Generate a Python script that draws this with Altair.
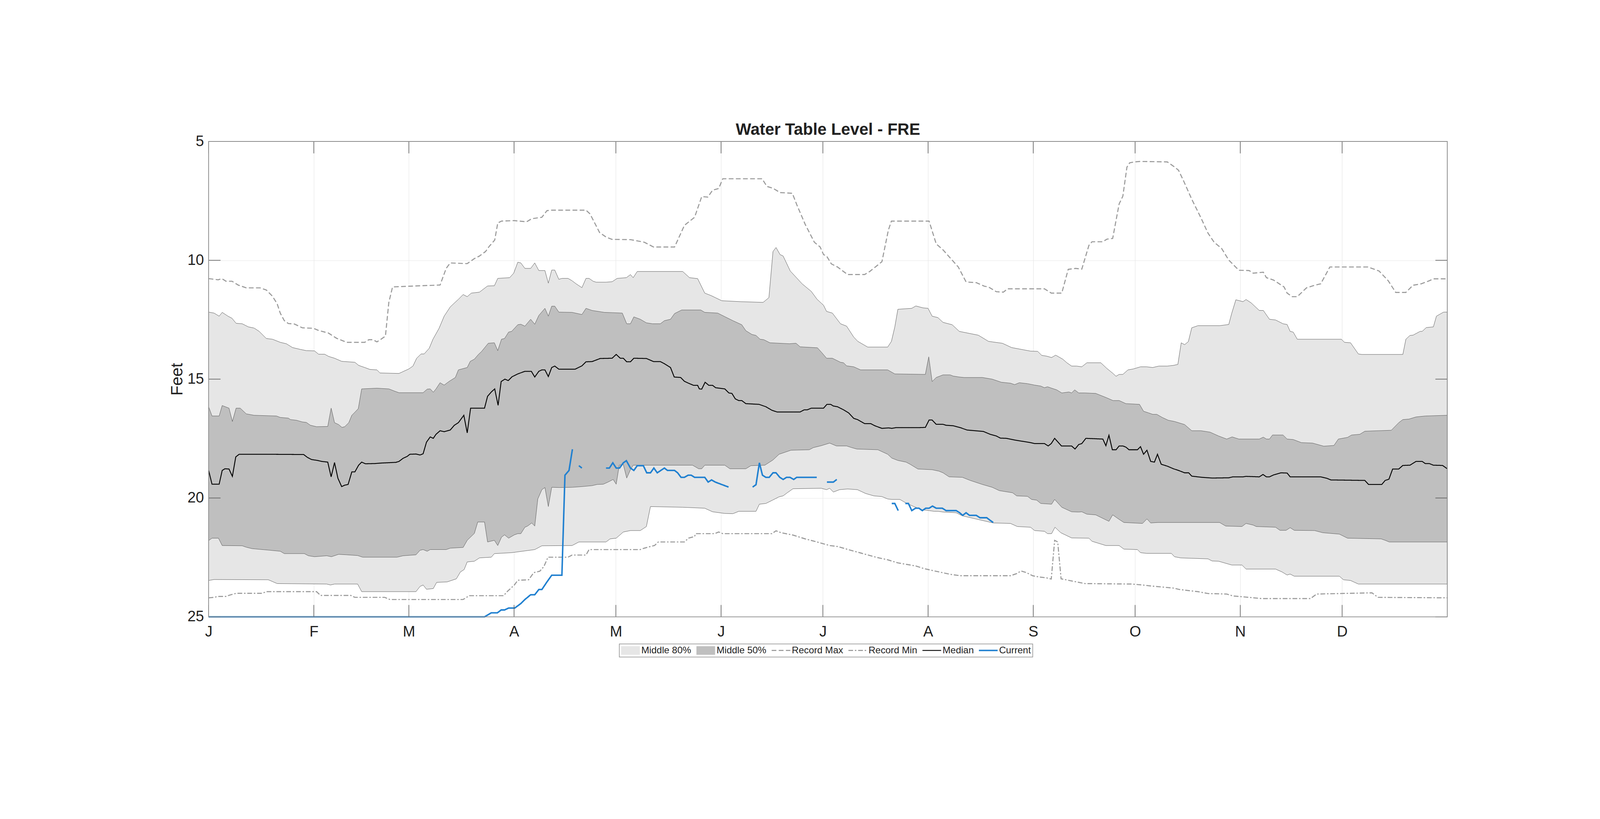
import altair as alt
import pandas as pd

# ---------------- data ----------------
MONTH_STARTS = [0, 31, 59, 90, 120, 151, 181, 212, 243, 273, 304, 334]
MONTH_LABELS = ["J", "F", "M", "A", "M", "J", "J", "A", "S", "O", "N", "D"]
Y_TICKS = [5, 10, 15, 20, 25]
X_DOMAIN = [0, 365]
Y_DOMAIN = [5, 25]

SERIES = ["Middle 80%", "Middle 50%", "Record Max", "Record Min", "Median", "Current"]
SERIES_COLORS = ["#e6e6e6", "#bfbfbf", "#999999", "#999999", "#000000", "#2080d0"]
SERIES_DASH = [[1, 0], [1, 0], [16, 8], [16, 6, 5, 6], [1, 0], [1, 0]]
SERIES_WIDTH = [29, 29, 3.5, 3.5, 3, 5]

REC_MAX = [(0, 10.77), (2.8, 10.82), (3.9, 10.77), (5.1, 10.88), (6.9, 10.88), (8.7, 11.04), (11.1, 11.16),
           (15.2, 11.16), (17.0, 11.25), (18.8, 11.51), (20.2, 11.83), (21.1, 12.22), (22.3, 12.54),
           (23.5, 12.66), (25.3, 12.68), (27.6, 12.84), (30.9, 12.86), (32.4, 12.95), (35.3, 13.06),
           (37.7, 13.28), (40.7, 13.45), (46.0, 13.45), (47.2, 13.34), (48.4, 13.34), (49.6, 13.43),
           (50.8, 13.32), (52.1, 13.19), (53.1, 11.77), (54.2, 11.12), (60.8, 11.08), (68.2, 11.04),
           (70.0, 10.34), (71.2, 10.11), (76.2, 10.14), (78.3, 9.93), (79.8, 9.82), (81.6, 9.63),
           (82.7, 9.41), (84.3, 9.15), (85.2, 8.43), (86.3, 8.35), (90.1, 8.33), (93.7, 8.38),
           (95.2, 8.25), (98.2, 8.19), (99.7, 7.91), (101.1, 7.89), (111.2, 7.89), (112.4, 8.05),
           (115.2, 8.83), (117.1, 9.02), (118.9, 9.12), (124.3, 9.13), (128.4, 9.24), (131.1, 9.44),
           (137.3, 9.44), (140.2, 8.53), (143.2, 8.19), (145.3, 7.32), (147.1, 7.34), (148.5, 7.05),
           (150.3, 6.98), (151.5, 6.57), (163.1, 6.57), (164.5, 6.89), (166.3, 6.97), (168.4, 7.15),
           (172.0, 7.18), (173.4, 7.69), (175.8, 8.49), (178.5, 9.24), (180.2, 9.44), (181.2, 9.76),
           (182.1, 9.82), (183.5, 10.15), (185.3, 10.28), (188.3, 10.60), (193.3, 10.60), (194.8, 10.47),
           (198.4, 10.06), (200.3, 8.73), (201.2, 8.35), (212.3, 8.35), (214.4, 9.31), (216.4, 9.56),
           (220.9, 10.28), (223.2, 10.91), (226.2, 10.94), (228.6, 11.09), (229.8, 11.12), (232.1, 11.32),
           (234.2, 11.34), (235.4, 11.20), (246.3, 11.20), (248.3, 11.38), (251.4, 11.38), (253.3, 10.38),
           (255.5, 10.34), (257.3, 10.37), (259.4, 9.37), (260.3, 9.22), (263.5, 9.22), (264.7, 9.11),
           (266.4, 9.08), (268.3, 7.63), (269.4, 7.30), (270.6, 6.08), (271.4, 5.90), (272.8, 5.86),
           (274.6, 5.84), (282.5, 5.86), (284.3, 6.04), (285.8, 6.21), (287.3, 6.66), (289.7, 7.43),
           (292.4, 8.21), (294.5, 8.86), (296.3, 9.24), (298.5, 9.50), (300.6, 9.99), (303.6, 10.42),
           (306.6, 10.43), (307.8, 10.54), (310.8, 10.50), (311.7, 10.73), (313.8, 10.83), (316.9, 11.12),
           (317.8, 11.38), (319.3, 11.53), (320.8, 11.53), (323.5, 11.16), (325.9, 11.05), (327.7, 10.99),
           (330.4, 10.28), (341.6, 10.28), (344.9, 10.45), (347.6, 10.86), (349.8, 11.35), (352.8, 11.35),
           (354.9, 11.05), (357.3, 10.99), (359.7, 10.86), (360.9, 10.78), (365, 10.78)]

REC_MIN = [(0, 24.20), (1.6, 24.18), (2.8, 24.14), (5.1, 24.14), (6.3, 24.08), (8.1, 24.01), (15.8, 24.01),
           (17.0, 23.94), (31.8, 23.94), (33.0, 24.10), (41.9, 24.10), (43.1, 24.18), (51.9, 24.18),
           (53.4, 24.27), (75.0, 24.27), (76.8, 24.11), (86.9, 24.11), (88.1, 23.92), (90.1, 23.66),
           (91.1, 23.46), (94.3, 23.44), (95.8, 23.14), (97.6, 23.08), (98.8, 22.88), (100.0, 22.49),
           (105.9, 22.49), (107.1, 22.40), (111.2, 22.40), (112.1, 22.17), (127.2, 22.17), (128.4, 22.11),
           (130.2, 22.04), (131.4, 22.00), (132.5, 21.85), (140.2, 21.85), (141.4, 21.69), (143.2, 21.62),
           (143.5, 21.50), (149.1, 21.50), (150.3, 21.43), (151.5, 21.50), (166.0, 21.50), (167.2, 21.38),
           (168.7, 21.46), (172.2, 21.56), (175.8, 21.72), (179.3, 21.85), (183.0, 22.00), (185.3, 22.04),
           (189.5, 22.21), (191.8, 22.30), (196.6, 22.49), (200.1, 22.60), (203.1, 22.73), (208.4, 22.86),
           (210.8, 22.97), (214.9, 23.10), (218.5, 23.21), (221.5, 23.27), (236.3, 23.27), (238.1, 23.18),
           (239.4, 23.07), (241.0, 23.14), (242.8, 23.27), (244.6, 23.32), (246.9, 23.36), (248.3, 23.41),
           (249.3, 21.78), (250.2, 21.85), (251.2, 23.40), (254.0, 23.48), (258.2, 23.60), (272.1, 23.62),
           (275.2, 23.66), (277.6, 23.70), (284.3, 23.79), (286.1, 23.85), (291.5, 23.94), (294.5, 24.02),
           (300.0, 24.04), (301.8, 24.12), (306.6, 24.18), (310.2, 24.23), (324.7, 24.23), (326.5, 24.04),
           (342.8, 23.99), (344.6, 24.18), (365, 24.20)]

# shallow edge of the middle-80% band (10th percentile)
P10 = [(0, 12.18), (1.6, 12.22), (3.1, 12.35), (4.0, 12.19), (5.7, 12.35), (6.9, 12.44), (8.1, 12.65),
       (9.9, 12.67), (11.7, 12.80), (13.4, 12.85), (14.9, 12.99), (17.0, 13.29), (18.8, 13.32),
       (21.1, 13.45), (22.9, 13.51), (24.7, 13.67), (27.1, 13.75), (28.8, 13.80), (31.2, 13.81),
       (32.4, 13.95), (34.2, 13.95), (35.3, 14.04), (37.1, 14.12), (39.2, 14.25), (43.1, 14.29),
       (44.2, 14.42), (46.0, 14.51), (47.5, 14.59), (49.6, 14.61), (50.5, 14.74), (56.1, 14.76),
       (59.0, 14.57), (60.2, 14.45), (61.3, 14.12), (62.6, 13.94), (63.5, 13.94), (65.0, 13.70),
       (66.1, 13.32), (67.9, 12.86), (69.4, 12.35), (71.2, 11.96), (73.6, 11.64), (75.0, 11.44),
       (76.2, 11.53), (77.4, 11.38), (79.8, 11.34), (82.2, 11.08), (84.2, 11.07), (85.2, 10.76),
       (88.7, 10.73), (89.9, 10.54), (91.1, 10.08), (92.0, 10.11), (93.2, 10.34), (94.9, 10.34),
       (96.1, 10.11), (97.3, 10.43), (99.1, 10.43), (100.1, 10.96), (101.1, 10.41), (102.0, 10.41),
       (103.2, 10.80), (104.1, 10.76), (105.9, 10.76), (107.1, 10.86), (108.3, 10.99), (110.0, 11.15),
       (111.2, 10.76), (112.1, 10.76), (113.3, 10.88), (114.2, 10.92), (117.1, 10.92), (118.9, 10.90),
       (120.4, 10.76), (123.1, 10.73), (124.3, 10.60), (125.1, 10.73), (126.3, 10.47), (139.7, 10.47),
       (141.7, 10.73), (144.1, 10.77), (146.2, 11.38), (148.0, 11.48), (151.2, 11.70), (156.8, 11.74),
       (163.4, 11.77), (165.1, 11.57), (166.3, 9.63), (167.2, 9.46), (168.4, 9.76), (169.3, 9.82),
       (171.4, 10.45), (174.9, 10.99), (177.6, 11.31), (179.3, 11.64), (181.2, 11.89), (182.1, 12.15),
       (183.8, 12.22), (186.2, 12.67), (188.0, 12.77), (190.1, 13.23), (191.3, 13.41), (194.2, 13.65),
       (200.1, 13.65), (201.2, 13.41), (202.2, 12.80), (203.1, 12.06), (207.2, 12.02), (208.4, 11.92),
       (210.5, 12.00), (212.0, 12.02), (213.2, 12.35), (214.9, 12.41), (216.4, 12.61), (219.1, 12.71),
       (221.2, 12.99), (226.8, 13.15), (229.8, 13.41), (233.9, 13.49), (236.6, 13.67), (242.2, 13.82),
       (244.3, 13.83), (245.5, 14.00), (246.9, 14.03), (248.4, 14.09), (249.6, 13.99), (251.7, 14.16),
       (252.9, 14.31), (254.3, 14.45), (255.8, 14.45), (257.3, 14.48), (258.8, 14.31), (262.9, 14.31),
       (264.7, 14.55), (266.5, 14.76), (267.4, 14.88), (268.3, 14.80), (269.4, 14.80), (270.9, 14.61),
       (272.5, 14.57), (274.6, 14.48), (276.4, 14.48), (278.2, 14.51), (280.0, 14.45), (282.5, 14.45),
       (284.3, 14.42), (285.6, 14.38), (286.6, 13.47), (287.6, 13.55), (288.7, 13.42), (289.7, 12.84),
       (291.5, 12.75), (297.9, 12.75), (300.6, 12.70), (301.5, 12.22), (302.7, 11.66), (304.8, 11.74),
       (305.7, 11.65), (307.2, 11.79), (309.6, 12.11), (310.8, 12.11), (312.6, 12.48), (314.4, 12.51),
       (316.6, 12.67), (317.8, 12.70), (318.7, 12.99), (319.6, 13.02), (320.8, 13.32), (333.8, 13.32),
       (334.7, 13.45), (336.5, 13.47), (338.8, 13.94), (339.8, 13.96), (351.9, 13.96), (352.8, 13.32),
       (354.0, 13.16), (354.9, 13.15), (357.0, 12.99), (357.6, 12.99), (358.8, 12.83), (360.9, 12.80),
       (361.8, 12.35), (363.9, 12.18), (365, 12.18)]

# deep edge of the middle-80% band (90th percentile)
P90 = [(0, 23.47), (1.6, 23.43), (17.6, 23.44), (20.2, 23.60), (34.8, 23.62), (35.9, 23.66), (37.1, 23.62),
       (43.9, 23.62), (45.1, 23.94), (61.1, 23.94), (62.3, 23.72), (63.2, 23.66), (64.2, 23.84),
       (66.2, 23.81), (67.2, 23.55), (70.3, 23.53), (73.0, 23.40), (74.2, 23.11), (75.3, 23.01),
       (76.2, 22.69), (78.3, 22.66), (79.8, 22.52), (83.3, 22.49), (84.2, 22.34), (89.3, 22.30),
       (96.1, 22.17), (98.2, 22.01), (107.1, 22.00), (109.1, 21.85), (117.1, 21.85), (118.3, 21.72),
       (120.1, 21.69), (122.2, 21.43), (124.3, 21.37), (127.2, 21.37), (129.0, 21.20), (130.2, 20.36),
       (139.7, 20.39), (146.2, 20.43), (148.5, 20.58), (152.1, 20.65), (154.5, 20.66), (156.2, 20.56),
       (161.3, 20.56), (162.3, 20.26), (164.2, 20.23), (166.3, 20.08), (168.1, 19.95), (169.3, 19.91),
       (170.5, 19.78), (172.2, 19.61), (180.5, 19.59), (182.1, 19.65), (183.0, 19.59), (184.1, 19.75),
       (185.9, 19.65), (188.3, 19.62), (191.2, 19.65), (193.6, 19.81), (196.0, 19.91), (198.4, 19.94),
       (200.1, 20.04), (201.3, 20.06), (203.7, 20.06), (205.5, 20.21), (207.8, 20.36), (210.2, 20.49),
       (213.8, 20.56), (214.9, 20.56), (216.4, 20.59), (220.3, 20.62), (222.1, 20.75), (231.2, 21.05),
       (236.3, 21.07), (238.3, 21.20), (242.2, 21.23), (243.4, 21.37), (246.3, 21.40), (247.2, 21.50),
       (248.4, 21.50), (249.4, 21.23), (251.1, 21.46), (254.3, 21.68), (259.4, 21.69), (260.3, 21.82),
       (264.4, 22.00), (268.3, 22.00), (269.7, 22.15), (273.7, 22.17), (274.6, 22.30), (276.4, 22.33),
       (283.7, 22.33), (284.6, 22.47), (286.4, 22.52), (294.5, 22.56), (295.7, 22.65), (297.6, 22.66),
       (301.5, 22.82), (304.5, 22.82), (305.7, 22.99), (314.4, 22.99), (316.3, 23.11), (317.8, 23.24),
       (318.7, 23.20), (319.9, 23.29), (333.2, 23.29), (334.4, 23.44), (336.5, 23.47), (338.8, 23.62),
       (365, 23.62)]

# shallow edge of the middle-50% band (25th percentile)
P25 = [(0, 16.16), (1.0, 16.55), (3.1, 16.55), (4.0, 16.11), (6.0, 16.22), (7.0, 16.78), (8.1, 16.22),
       (9.3, 16.22), (11.1, 16.46), (13.4, 16.52), (20.0, 16.55), (21.1, 16.61), (23.5, 16.64),
       (24.1, 16.70), (25.9, 16.73), (27.6, 16.80), (28.8, 16.82), (30.0, 16.94), (31.8, 17.00),
       (35.1, 16.99), (36.1, 16.22), (37.1, 16.83), (38.3, 16.91), (39.3, 17.03), (40.1, 17.00),
       (41.3, 16.83), (42.2, 16.52), (43.1, 16.39), (44.1, 16.24), (45.1, 15.41), (49.6, 15.38),
       (53.1, 15.41), (54.9, 15.51), (56.1, 15.57), (63.2, 15.57), (64.4, 15.42), (65.3, 15.41),
       (66.2, 15.55), (67.0, 15.41), (68.2, 15.15), (69.4, 15.25), (70.9, 15.09), (72.7, 14.93),
       (73.6, 14.61), (76.2, 14.51), (77.1, 14.25), (78.3, 14.16), (79.5, 13.96), (80.4, 13.84),
       (82.4, 13.49), (84.2, 13.47), (85.2, 13.80), (86.3, 13.32), (87.2, 13.29), (88.4, 13.02),
       (89.3, 12.99), (91.1, 12.71), (92.0, 12.69), (93.2, 12.77), (94.9, 12.48), (96.1, 12.69),
       (97.3, 12.32), (99.1, 12.02), (100.1, 12.35), (101.1, 11.93), (102.0, 11.93), (103.2, 12.18),
       (107.1, 12.19), (110.0, 12.28), (111.2, 12.02), (113.0, 12.11), (116.6, 12.19), (121.9, 12.22),
       (123.2, 12.67), (124.3, 12.67), (125.3, 12.38), (127.2, 12.48), (129.0, 12.63), (130.8, 12.67),
       (133.1, 12.67), (134.3, 12.54), (136.1, 12.48), (137.3, 12.24), (139.4, 12.09), (145.0, 12.09),
       (146.2, 12.19), (150.0, 12.22), (152.1, 12.37), (154.5, 12.54), (157.1, 12.71), (158.3, 12.96),
       (160.1, 13.12), (161.3, 13.16), (162.5, 13.32), (163.6, 13.34), (165.4, 13.47), (171.1, 13.51),
       (173.1, 13.49), (174.3, 13.64), (179.4, 13.68), (180.6, 13.87), (182.1, 14.12), (183.8, 14.12),
       (186.2, 14.29), (187.1, 14.31), (188.0, 14.44), (190.1, 14.48), (192.1, 14.61), (200.1, 14.61),
       (202.2, 14.78), (211.2, 14.80), (212.2, 14.06), (213.2, 15.10), (214.4, 14.93), (216.4, 14.82),
       (218.5, 14.82), (219.4, 14.87), (221.2, 14.91), (222.6, 14.93), (228.0, 14.93), (230.9, 15.00),
       (233.6, 15.13), (236.3, 15.17), (237.5, 15.23), (238.9, 15.15), (241.3, 15.19), (243.4, 15.25),
       (245.2, 15.29), (246.3, 15.36), (247.2, 15.32), (248.4, 15.38), (249.9, 15.45), (251.4, 15.58),
       (253.5, 15.54), (254.3, 15.58), (255.2, 15.45), (256.4, 15.58), (258.2, 15.58), (261.4, 15.60),
       (264.4, 15.77), (266.5, 15.90), (268.3, 15.90), (270.3, 16.03), (274.3, 16.06), (275.5, 16.35),
       (277.0, 16.42), (278.2, 16.48), (279.4, 16.48), (281.0, 16.61), (282.8, 16.73), (284.6, 16.78),
       (287.6, 16.91), (289.7, 17.17), (292.4, 17.17), (295.1, 17.23), (297.6, 17.39), (300.0, 17.52),
       (301.6, 17.43), (303.6, 17.52), (309.6, 17.52), (310.8, 17.44), (311.7, 17.52), (312.6, 17.52),
       (313.5, 17.35), (316.6, 17.35), (317.8, 17.52), (319.6, 17.54), (322.0, 17.67), (325.3, 17.69),
       (328.6, 17.82), (331.6, 17.79), (332.9, 17.52), (335.6, 17.45), (336.8, 17.35), (339.2, 17.32),
       (340.7, 17.19), (348.5, 17.15), (350.7, 16.83), (351.9, 16.70), (353.7, 16.68), (355.8, 16.59),
       (358.5, 16.55), (365, 16.52)]

# deep edge of the middle-50% band (75th percentile)
P75 = [(0, 21.79), (1.0, 21.69), (2.9, 21.69), (4.0, 22.00), (9.9, 22.01), (11.1, 22.07), (12.8, 22.13),
       (18.2, 22.20), (21.1, 22.24), (22.3, 22.34), (28.2, 22.34), (29.4, 22.43), (31.2, 22.47),
       (34.8, 22.43), (36.2, 22.47), (38.3, 22.37), (40.7, 22.39), (43.9, 22.42), (45.4, 22.49),
       (55.5, 22.49), (57.3, 22.43), (61.1, 22.39), (62.3, 22.20), (63.2, 22.17), (64.4, 22.24),
       (65.3, 22.17), (70.0, 22.17), (71.2, 22.11), (75.0, 22.08), (76.2, 21.78), (78.3, 21.49),
       (79.3, 21.01), (81.3, 21.01), (82.2, 21.85), (84.2, 21.78), (85.2, 22.00), (86.3, 21.65),
       (87.2, 21.55), (88.4, 21.69), (90.1, 21.55), (91.1, 21.50), (92.0, 21.50), (93.2, 21.23),
       (94.0, 21.18), (95.2, 21.05), (96.1, 21.18), (97.0, 20.04), (98.2, 19.65), (99.1, 19.56),
       (100.1, 20.36), (101.1, 19.55), (103.5, 19.56), (107.1, 19.55), (110.0, 19.52), (113.0, 19.48),
       (114.5, 19.43), (116.3, 19.42), (117.7, 19.33), (119.2, 19.22), (120.1, 19.42), (121.0, 18.62),
       (122.2, 18.59), (123.2, 19.16), (124.3, 18.81), (125.1, 18.62), (142.6, 18.62), (144.4, 18.77),
       (145.3, 18.77), (146.2, 18.62), (152.1, 18.62), (153.6, 18.77), (158.3, 18.77), (159.8, 18.64),
       (163.9, 18.62), (166.3, 18.40), (168.1, 18.16), (171.6, 17.99), (177.0, 17.97), (178.2, 17.88),
       (180.5, 17.80), (183.0, 17.69), (185.0, 17.81), (188.0, 17.81), (189.5, 17.88), (191.0, 17.94),
       (197.2, 17.97), (200.1, 18.16), (201.3, 18.32), (203.1, 18.42), (205.5, 18.49), (206.7, 18.58),
       (209.0, 18.78), (213.2, 18.81), (215.2, 18.87), (216.4, 18.94), (218.2, 19.11), (222.1, 19.13),
       (224.4, 19.26), (228.0, 19.43), (230.9, 19.55), (233.0, 19.69), (236.9, 19.78), (238.1, 19.91),
       (241.3, 19.93), (242.5, 20.06), (244.0, 20.09), (245.2, 20.23), (248.4, 20.26), (249.3, 20.06),
       (251.4, 20.39), (254.3, 20.58), (256.4, 20.59), (257.3, 20.58), (258.8, 20.68), (261.4, 20.71),
       (264.4, 20.92), (265.3, 20.98), (266.4, 20.71), (268.3, 20.90), (269.7, 21.03), (275.2, 21.07),
       (276.5, 20.88), (277.6, 21.05), (279.7, 21.03), (297.9, 21.03), (299.7, 21.18), (304.5, 21.20),
       (305.7, 21.07), (307.8, 21.14), (308.7, 21.20), (314.4, 21.23), (315.7, 21.36), (317.5, 21.36),
       (318.7, 21.25), (319.9, 21.36), (325.9, 21.37), (328.3, 21.46), (333.2, 21.52), (335.6, 21.69),
       (345.5, 21.72), (346.7, 21.78), (347.9, 21.85), (365, 21.85)]

MEDIAN = [(0, 18.84), (1.0, 19.42), (3.1, 19.42), (4.0, 18.84), (4.8, 18.77), (6.0, 18.78), (7.0, 19.09),
          (8.0, 18.27), (9.0, 18.16), (17.0, 18.16), (28.0, 18.17), (29.1, 18.29), (30.3, 18.38),
          (32.1, 18.42), (33.3, 18.46), (35.1, 18.49), (36.1, 19.11), (37.1, 18.51), (38.1, 19.17),
          (39.2, 19.52), (40.1, 19.46), (41.1, 19.43), (42.2, 18.90), (43.1, 18.90), (44.2, 18.62),
          (45.1, 18.49), (46.2, 18.56), (49.0, 18.55), (50.8, 18.53), (55.2, 18.50), (56.1, 18.46),
          (57.3, 18.33), (58.5, 18.25), (59.3, 18.16), (61.1, 18.15), (62.3, 18.19), (63.2, 18.14),
          (64.2, 17.65), (65.3, 17.43), (66.2, 17.49), (67.0, 17.32), (68.2, 17.17), (69.4, 17.21),
          (71.2, 17.14), (72.4, 16.94), (73.6, 16.83), (75.2, 16.52), (76.2, 17.26), (77.2, 16.22),
          (81.3, 16.22), (82.2, 15.72), (83.3, 15.54), (84.3, 15.41), (85.3, 16.10), (86.2, 15.10),
          (87.3, 15.00), (88.3, 15.06), (89.4, 14.90), (91.1, 14.78), (93.2, 14.67), (95.1, 14.67),
          (96.1, 14.91), (97.3, 14.67), (98.2, 14.61), (99.1, 14.61), (100.1, 14.89), (101.1, 14.51),
          (102.0, 14.45), (103.2, 14.58), (108.0, 14.58), (110.0, 14.44), (111.2, 14.27), (113.0, 14.26),
          (115.4, 14.13), (118.9, 14.12), (120.1, 13.96), (121.3, 14.12), (122.2, 14.12), (123.2, 14.27),
          (124.3, 14.27), (125.3, 14.12), (129.0, 14.13), (131.1, 14.26), (133.1, 14.26), (134.3, 14.35),
          (136.1, 14.51), (137.2, 14.91), (139.1, 14.93), (140.2, 15.09), (141.4, 15.17), (142.9, 15.26),
          (144.1, 15.26), (144.6, 15.41), (145.3, 15.42), (146.3, 15.13), (147.4, 15.26), (148.5, 15.26),
          (149.4, 15.36), (152.1, 15.41), (153.3, 15.58), (154.2, 15.60), (155.2, 15.83), (156.2, 15.90),
          (157.1, 15.90), (158.3, 16.03), (162.2, 16.06), (164.2, 16.16), (166.0, 16.31), (167.5, 16.38),
          (174.3, 16.38), (175.5, 16.29), (176.4, 16.29), (177.6, 16.22), (181.2, 16.22), (182.2, 16.06),
          (183.3, 16.06), (184.1, 16.13), (185.3, 16.16), (187.1, 16.29), (188.6, 16.42), (190.1, 16.65),
          (191.2, 16.70), (193.3, 16.87), (195.1, 16.87), (196.3, 16.96), (198.4, 17.07), (200.4, 17.05),
          (201.3, 17.07), (202.5, 17.04), (209.0, 17.04), (211.2, 17.03), (212.3, 16.72), (213.2, 16.72),
          (214.4, 16.90), (216.4, 16.90), (217.3, 16.94), (219.4, 16.96), (221.5, 17.04), (223.5, 17.14),
          (228.3, 17.20), (230.3, 17.32), (232.1, 17.39), (233.3, 17.48), (235.1, 17.49), (237.5, 17.56),
          (242.2, 17.67), (243.4, 17.71), (246.3, 17.71), (247.4, 17.81), (248.3, 17.71), (249.3, 17.49),
          (251.3, 17.81), (254.3, 17.81), (255.3, 17.94), (256.4, 17.75), (257.3, 17.71), (258.5, 17.49),
          (263.5, 17.52), (264.4, 17.80), (265.3, 17.36), (266.3, 17.97), (267.4, 17.97), (268.3, 17.81),
          (269.4, 17.81), (270.3, 17.86), (271.2, 17.97), (273.7, 17.97), (274.6, 17.84), (275.5, 18.16),
          (276.5, 17.99), (277.6, 18.46), (278.7, 18.49), (279.6, 18.16), (280.7, 18.58), (282.5, 18.66),
          (284.3, 18.77), (285.8, 18.84), (287.6, 18.94), (288.8, 18.94), (289.7, 19.08), (292.7, 19.13),
          (295.7, 19.16), (300.6, 19.15), (301.8, 19.11), (304.8, 19.11), (305.7, 19.09), (309.6, 19.11),
          (310.7, 19.01), (311.7, 19.11), (312.6, 19.11), (313.8, 19.03), (316.0, 18.94), (317.8, 18.95),
          (318.7, 19.11), (327.7, 19.11), (329.5, 19.17), (330.7, 19.24), (340.7, 19.26), (341.8, 19.43),
          (345.7, 19.43), (346.7, 19.26), (347.8, 19.21), (348.9, 18.78), (350.7, 18.78), (351.9, 18.63),
          (354.0, 18.62), (355.8, 18.46), (357.6, 18.46), (358.5, 18.55), (359.7, 18.55), (360.9, 18.62),
          (363.6, 18.63), (365, 18.77)]

# current year, with gaps where no readings exist
CURRENT_SEGMENTS = [
    [(0, 25.0), (81.3, 25.0), (83.3, 24.83), (85.1, 24.83), (86.2, 24.71), (87.2, 24.71), (88.4, 24.63),
     (90.2, 24.63), (92.0, 24.44), (93.2, 24.27), (94.9, 24.07), (96.1, 24.07), (97.3, 23.85),
     (98.2, 23.85), (99.7, 23.53), (101.1, 23.25), (104.1, 23.25), (105.0, 19.04), (106.2, 18.84),
     (107.2, 17.95)],
    [(109.1, 18.64), (110.0, 18.74)],
    [(117.1, 18.74), (118.1, 18.74), (119.1, 18.52), (120.1, 18.74), (121.1, 18.74), (122.2, 18.52),
     (123.1, 18.43), (124.3, 18.74), (125.3, 18.84), (126.3, 18.64), (128.1, 18.64), (129.1, 18.94),
     (130.2, 18.94), (131.2, 18.74), (132.2, 18.94), (134.3, 18.74), (135.2, 18.84), (137.3, 18.84),
     (138.2, 18.94), (139.2, 19.13), (140.2, 19.13), (141.3, 19.04), (142.2, 19.04), (143.2, 19.13),
     (146.2, 19.13), (147.2, 19.33), (148.2, 19.24), (149.3, 19.33), (153.2, 19.54)],
    [(160.3, 19.54), (161.3, 19.44), (162.3, 18.52), (163.2, 19.04), (164.2, 19.13), (165.2, 19.13),
     (166.3, 18.94), (167.2, 18.94), (168.3, 19.13), (169.3, 19.22), (170.3, 19.13), (171.3, 19.13),
     (172.4, 19.22), (173.3, 19.13), (179.2, 19.13)],
    [(182.2, 19.33), (184.1, 19.33), (185.1, 19.22)],
    [(201.3, 20.23), (202.2, 20.23), (203.2, 20.53)],
    [(205.3, 20.23), (206.2, 20.23), (207.2, 20.53), (208.3, 20.43), (209.3, 20.43), (210.3, 20.53),
     (211.3, 20.43), (212.3, 20.43), (213.3, 20.34), (214.4, 20.43), (216.2, 20.43), (217.3, 20.53),
     (220.3, 20.53), (221.3, 20.62), (222.2, 20.73), (223.2, 20.62), (224.2, 20.73), (226.2, 20.73),
     (227.3, 20.83), (229.3, 20.83), (230.2, 20.93), (231.2, 21.03)],
]

# ---------------- tables ----------------
def band_polygon(upper, lower):
    pts = list(upper) + list(reversed(lower))
    return pd.DataFrame({"day": [p[0] for p in pts], "ft": [p[1] for p in pts], "k": list(range(len(pts)))})


def series_df(pts, name):
    return pd.DataFrame({"day": [p[0] for p in pts], "ft": [p[1] for p in pts], "series": name})


light_df = band_polygon(P10, P90)
dark_df = band_polygon(P25, P75)
max_df = series_df(REC_MAX, "Record Max")
min_df = series_df(REC_MIN, "Record Min")
med_df = series_df(MEDIAN, "Median")
cur_df = pd.concat(
    [series_df(seg, "Current").assign(seg=i) for i, seg in enumerate(CURRENT_SEGMENTS)],
    ignore_index=True,
)
xtick_df = pd.DataFrame({"day": MONTH_STARTS})
ytick_df = pd.DataFrame({"ft": Y_TICKS})
box_df = pd.DataFrame({"day": [X_DOMAIN[0]], "day2": [X_DOMAIN[1]], "ft": [Y_DOMAIN[0]], "ft2": [Y_DOMAIN[1]]})

# ---------------- layout & styling ----------------
W, H = 4165, 1598                                   # plot area
PAD = {"left": 691, "top": 139, "right": 503, "bottom": 343}   # whole chart 5359 x 2080
FONT = "Liberation Sans, Arial, Helvetica, sans-serif"
TXT = "#212121"
TICK_LEN = 40

label_expr = (
    "[" + ",".join("'%s'" % s for s in MONTH_LABELS) + "][indexof(["
    + ",".join(str(v) for v in MONTH_STARTS) + "], datum.value)]"
)

x_scale = alt.Scale(domain=X_DOMAIN, nice=False, zero=False)
y_scale = alt.Scale(domain=Y_DOMAIN, reverse=True, nice=False, zero=False)

x_axis = alt.Axis(values=MONTH_STARTS, labelExpr=label_expr, title=None, grid=True, ticks=False, tickSize=0,
                  domain=False, labelFontSize=50, labelFont=FONT, labelColor=TXT, labelPadding=25,
                  labelFlush=False, labelOverlap=False, gridColor="#e6e6e6", gridWidth=1.5, zindex=0)
y_axis = alt.Axis(values=Y_TICKS, title="Feet", grid=True, ticks=False, tickSize=0, domain=False,
                  labelFontSize=50, labelFont=FONT, labelColor=TXT, labelPadding=16, labelFlush=False,
                  labelOverlap=False, titleFontSize=55, titleFont=FONT, titleFontWeight="normal",
                  titleColor=TXT, titlePadding=5, gridColor="#e6e6e6", gridWidth=1.5, zindex=0)

X = alt.X("day:Q", scale=x_scale, axis=x_axis)
Y = alt.Y("ft:Q", scale=y_scale, axis=y_axis)

# legend symbol: a 63px-long stroke (thick strokes act as the band swatches)
legend = alt.Legend(
    title=None, orient="none", legendX=1381, legendY=1689, direction="horizontal", columns=6,
    symbolType="M-10.67,0L31.33,0", symbolSize=9, symbolStrokeWidth=2, labelOffset=36, columnPadding=17,
    labelFontSize=32, labelFont=FONT, labelColor=TXT, labelLimit=600, clipHeight=32,
)
C = alt.Color("series:N", scale=alt.Scale(domain=SERIES, range=SERIES_COLORS), legend=legend)
D = alt.StrokeDash("series:N", scale=alt.Scale(type="ordinal", domain=SERIES, range=SERIES_DASH), legend=legend)
SW = alt.StrokeWidth("series:N", scale=alt.Scale(type="ordinal", domain=SERIES, range=SERIES_WIDTH),
                     legend=legend)

# ---------------- layers ----------------
light = alt.Chart(light_df).mark_line(fill="#e6e6e6", stroke="#505050", strokeWidth=1.2).encode(
    x=X, y=Y, order="k:Q")
dark = alt.Chart(dark_df).mark_line(fill="#bfbfbf", stroke="#505050", strokeWidth=1.2).encode(
    x=X, y=Y, order="k:Q")
rmax = alt.Chart(max_df).mark_line().encode(x=X, y=Y, color=C, strokeDash=D, strokeWidth=SW)
rmin = alt.Chart(min_df).mark_line().encode(x=X, y=Y, color=C, strokeDash=D, strokeWidth=SW)
med = alt.Chart(med_df).mark_line().encode(x=X, y=Y, color=C, strokeDash=D, strokeWidth=SW)
cur = alt.Chart(cur_df).mark_line().encode(x=X, y=Y, color=C, strokeDash=D, strokeWidth=SW, detail="seg:N")

tick_style = dict(color="#555555", strokeWidth=2)
xt_bottom = alt.Chart(xtick_df).mark_rule(**tick_style).encode(
    x=X, y=alt.value(H), y2=alt.value(H - TICK_LEN))
xt_top = alt.Chart(xtick_df).mark_rule(**tick_style).encode(x=X, y=alt.value(0), y2=alt.value(TICK_LEN))
yt_left = alt.Chart(ytick_df).mark_rule(**tick_style).encode(y=Y, x=alt.value(0), x2=alt.value(TICK_LEN))
yt_right = alt.Chart(ytick_df).mark_rule(**tick_style).encode(
    y=Y, x=alt.value(W), x2=alt.value(W - TICK_LEN))
box = alt.Chart(box_df).mark_rect(fillOpacity=0, stroke="#8c8c8c", strokeWidth=2.5).encode(
    x=X, x2="day2:Q", y=Y, y2="ft2:Q")

chart = alt.layer(light, dark, rmax, rmin, med, cur, xt_bottom, xt_top, yt_left, yt_right, box).properties(
    width=W, height=H,
    title=alt.TitleParams("Water Table Level - FRE", fontSize=55, font=FONT, fontWeight="bold", color=TXT,
                          anchor="middle", frame="group", baseline="alphabetic", offset=-58),
    autosize=alt.AutoSizeParams(type="none"),
    padding=PAD,
    background="white",
).configure_view(stroke="transparent").configure_legend(
    strokeColor="#8c8c8c", strokeWidth=2, fillColor="white", padding=6
)

chart.save("out.html", embed_options={"renderer": "svg", "actions": False})
